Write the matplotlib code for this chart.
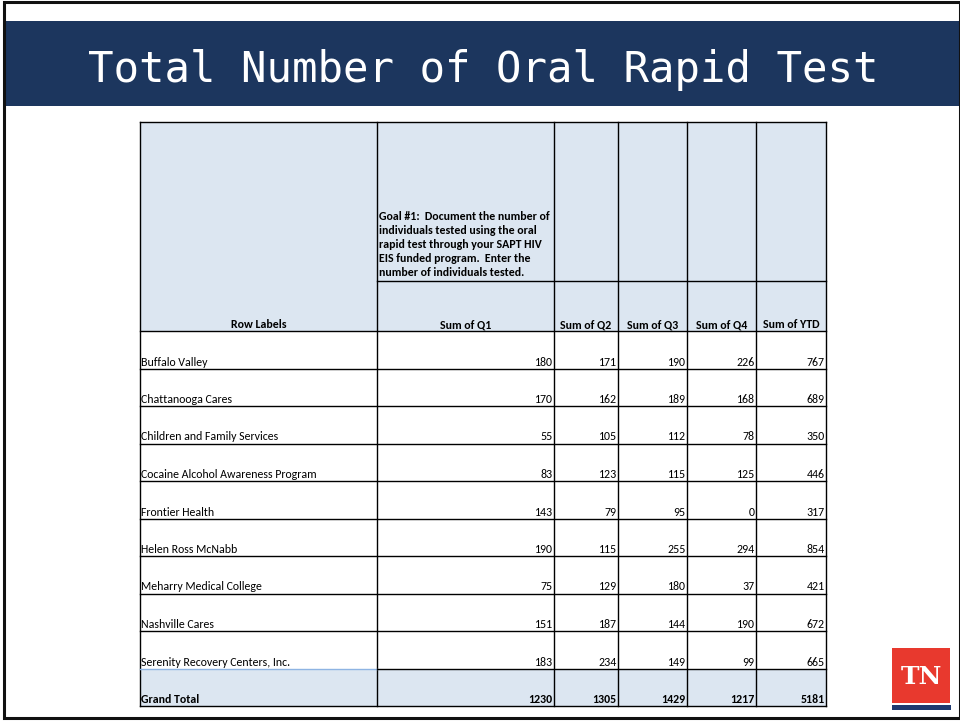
import matplotlib
matplotlib.use("Agg")
import matplotlib.pyplot as plt
from matplotlib.patches import Rectangle

# ---- data ----
title = "Total Number of Oral Rapid Test"
goal_text = ["Goal #1:  Document the number of",
             "individuals tested using the oral",
             "rapid test through your SAPT HIV",
             "EIS funded program.  Enter the",
             "number of individuals tested."]
col_labels = ["Row Labels", "Sum of Q1", "Sum of Q2", "Sum of Q3", "Sum of Q4", "Sum of YTD"]
row_labels = ["Buffalo Valley", "Chattanooga Cares", "Children and Family Services",
              "Cocaine Alcohol Awareness Program", "Frontier Health", "Helen Ross McNabb",
              "Meharry Medical College", "Nashville Cares", "Serenity Recovery Centers, Inc."]
q1 = [180, 170, 55, 83, 143, 190, 75, 151, 183]
q2 = [171, 162, 105, 123, 79, 115, 129, 187, 234]
q3 = [190, 189, 112, 115, 95, 255, 180, 144, 149]
q4 = [226, 168, 78, 125, 0, 294, 37, 190, 99]
ytd = [767, 689, 350, 446, 317, 854, 421, 672, 665]
total_label = "Grand Total"
totals = [1230, 1305, 1429, 1217, 5181]

# ---- layout ----
W, H = 960, 721
fig = plt.figure(figsize=(W / 100, H / 100), dpi=100)
ax = fig.add_axes([0, 0, 1, 1])
ax.set_xlim(0, W)
ax.set_ylim(H, 0)
ax.axis("off")

TF = ["Carlito", "Lato", "DejaVu Sans"]
HEAD_FILL = "#dce6f1"
NAVY = "#1c365e"

# slide frame
ax.add_patch(Rectangle((4, 2), W - 4, 716, fill=False, ec="#111111", lw=2.2, zorder=10))

# title band
ax.add_patch(Rectangle((4, 21), W - 4, 85, fc=NAVY, ec="none", zorder=1))
ax.text(483, 70, title, color="white", fontsize=30.5, family="DejaVu Sans Mono",
        ha="center", va="center", zorder=2)

# table geometry
xs = [140, 377, 554, 618, 687, 756, 826]
y_top, y_mid, y_head = 122, 281, 331
nrows = len(row_labels) + 1
y_bot = 706
rh = (y_bot - y_head) / nrows
ys = [y_head + i * rh for i in range(nrows + 1)]

# fills
ax.add_patch(Rectangle((xs[0], y_top), xs[-1] - xs[0], y_head - y_top, fc=HEAD_FILL, ec="none", zorder=1))
ax.add_patch(Rectangle((xs[0], ys[-2]), xs[-1] - xs[0], ys[-1] - ys[-2], fc=HEAD_FILL, ec="none", zorder=1))

lw = 1.0
for x in xs:
    ax.plot([x, x], [y_top, y_bot], color="black", lw=lw, zorder=3)
ax.plot([xs[0], xs[-1]], [y_top, y_top], color="black", lw=lw, zorder=3)
ax.plot([xs[1], xs[-1]], [y_mid, y_mid], color="black", lw=lw, zorder=3)
for i, y in enumerate(ys):
    if i == len(ys) - 2:
        ax.plot([xs[0], xs[1]], [y, y], color="#8eb4e3", lw=lw, zorder=3)
        ax.plot([xs[1], xs[-1]], [y, y], color="black", lw=lw, zorder=3)
    else:
        ax.plot([xs[0], xs[-1]], [y, y], color="black", lw=lw, zorder=3)

fs = 8.6
for k, line in enumerate(goal_text):
    ax.text(xs[1] + 2, 217 + k * 14, line, family=TF, fontsize=fs, fontweight="bold",
            ha="left", va="center", zorder=4)

for j, lab in enumerate(col_labels):
    ax.text((xs[j] + xs[j + 1]) / 2, 325, lab, family=TF, fontsize=fs, fontweight="bold",
            ha="center", va="center", zorder=4)

cols = [q1, q2, q3, q4, ytd]
for i, lab in enumerate(row_labels):
    yb = ys[i + 1] - 6.5
    ax.text(xs[0] + 1, yb, lab, family=TF, fontsize=fs, ha="left", va="center", zorder=4)
    for j, c in enumerate(cols):
        ax.text(xs[j + 2] - 1.5, yb, str(c[i]), family=TF, fontsize=fs,
                ha="right", va="center", zorder=4)

yb = ys[-1] - 6.5
ax.text(xs[0] + 1, yb, total_label, family=TF, fontsize=fs, fontweight="bold",
        ha="left", va="center", zorder=4)
for j, v in enumerate(totals):
    ax.text(xs[j + 2] - 1.5, yb, str(v), family=TF, fontsize=fs, fontweight="bold",
            ha="right", va="center", zorder=4)

# TN logo
ax.add_patch(Rectangle((892, 648), 58, 55, fc="#e8392e", ec="none", zorder=2))
ax.add_patch(Rectangle((892, 705), 59, 5, fc="#1f3a70", ec="none", zorder=2))
ax.text(921, 677, "TN", color="white", fontsize=18, fontweight="bold", family="DejaVu Serif",
        ha="center", va="center", zorder=3)

fig.savefig("out.png", dpi=100)
